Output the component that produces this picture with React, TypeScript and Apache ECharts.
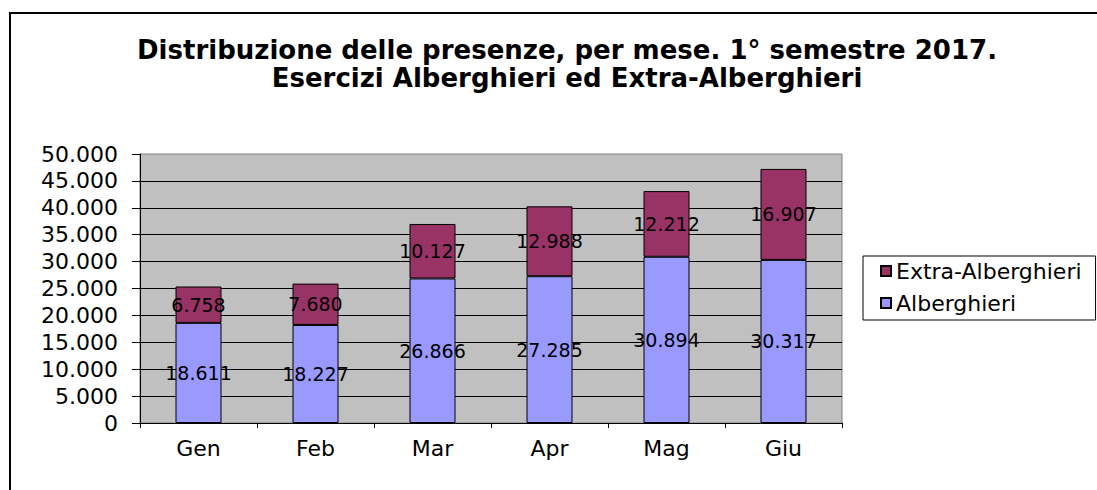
import React, { useEffect, useRef } from "react";
import * as echarts from "echarts";

const categories = ["Gen", "Feb", "Mar", "Apr", "Mag", "Giu"];
const alberghieri = [18611, 18227, 26866, 27285, 30894, 30317];
const extraAlberghieri = [6758, 7680, 10127, 12988, 12212, 16907];
const titleLines = [
  "Distribuzione delle presenze, per mese. 1° semestre 2017.",
  "Esercizi Alberghieri ed Extra-Alberghieri",
];

const FONT = "'DejaVu Sans', 'Liberation Sans', Arial, sans-serif";
const fmt = (v: number) => String(v).replace(/\B(?=(\d{3})+(?!\d))/g, ".");

export default function App() {
  const ref = useRef<HTMLDivElement>(null);
  useEffect(() => {
    if (!ref.current) return;
    const chart = echarts.init(ref.current, undefined, { renderer: "svg" });
    const labelStyle = {
      show: true,
      position: "inside" as const,
      color: "#000",
      fontSize: 19,
      fontFamily: FONT,
      formatter: (p: any) => fmt(p.value),
    };
    chart.setOption({
      animation: false,
      backgroundColor: "#fff",
      title: {
        text: titleLines.join("\n"),
        left: 567,
        top: 36,
        textAlign: "center",
        padding: 0,
        textStyle: {
          fontFamily: FONT,
          fontSize: 26,
          fontWeight: "bold",
          color: "#000",
          lineHeight: 28,
        },
      },
      legend: {
        data: ["Extra-Alberghieri", "Alberghieri"],
        orient: "vertical",
        left: 863,
        top: 256,
        padding: [4, 14, 6, 17],
        itemGap: 10,
        itemWidth: 10,
        itemHeight: 10,
        icon: "rect",
        borderColor: "#000",
        borderWidth: 1,
        textStyle: { fontFamily: FONT, fontSize: 22, color: "#000" },
      },
      graphic: [
        {
          type: "line",
          z: -10,
          silent: true,
          shape: { x1: 10, y1: 12, x2: 10, y2: 500 },
          style: { stroke: "#000", lineWidth: 2 },
        },
        {
          type: "line",
          z: -10,
          silent: true,
          shape: { x1: 9, y1: 13, x2: 1100, y2: 13 },
          style: { stroke: "#000", lineWidth: 2 },
        },
      ],
      grid: {
        left: 140,
        top: 154,
        right: 255,
        bottom: 67,
        show: true,
        backgroundColor: "#c0c0c0",
        borderColor: "#808080",
        borderWidth: 1,
      },
      xAxis: {
        type: "category",
        data: categories,
        axisLine: { show: true, lineStyle: { color: "#000", width: 1 } },
        axisTick: { show: true, length: 5, alignWithLabel: false, lineStyle: { color: "#000" } },
        axisLabel: { fontFamily: FONT, fontSize: 22, color: "#000", margin: 14 },
        splitLine: { show: false },
      },
      yAxis: {
        type: "value",
        min: 0,
        max: 50000,
        interval: 5000,
        axisLine: { show: true, lineStyle: { color: "#000", width: 1 } },
        axisTick: { show: true, length: 8, lineStyle: { color: "#000" } },
        axisLabel: {
          fontFamily: FONT,
          fontSize: 22,
          color: "#000",
          margin: 22,
          formatter: (v: number) => fmt(v),
        },
        splitLine: { show: true, showMaxLine: false, lineStyle: { color: "#000", width: 1 } },
      },
      series: [
        {
          name: "Alberghieri",
          type: "bar",
          stack: "tot",
          data: alberghieri,
          barWidth: 46,
          itemStyle: { color: "#9999ff", borderColor: "#000", borderWidth: 1 },
          label: labelStyle,
        },
        {
          name: "Extra-Alberghieri",
          type: "bar",
          stack: "tot",
          data: extraAlberghieri,
          barWidth: 46,
          itemStyle: { color: "#993366", borderColor: "#000", borderWidth: 1 },
          label: labelStyle,
        },
      ],
    });
    return () => chart.dispose();
  }, []);
  return (
    <div
      ref={ref}
      style={{ position: "fixed", left: 0, top: 0, width: 1097, height: 490 }}
    />
  );
}
